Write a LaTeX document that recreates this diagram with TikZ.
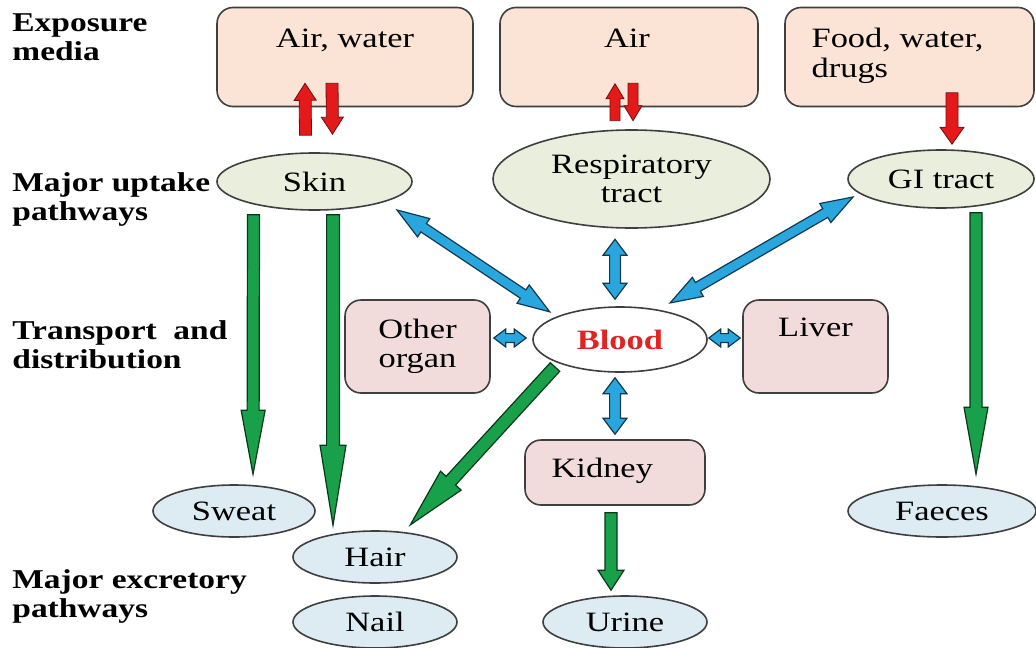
\documentclass[tikz,border=0pt]{standalone}
\usepackage{fontspec}
\setmainfont{Liberation Serif}[FakeStretch=1.23]
\usepackage{tikz}
\usetikzlibrary{shapes.geometric,calc}
\definecolor{mediafill}{HTML}{FBE3D5}
\definecolor{uptakefill}{HTML}{E9EFDC}
\definecolor{organfill}{HTML}{F2DCDB}
\definecolor{excretefill}{HTML}{DDEBF2}
\definecolor{edgegrey}{HTML}{3F3F3F}
\definecolor{arrowred}{HTML}{E41A1A}
\definecolor{arrowgreen}{HTML}{18A04A}
\definecolor{arrowblue}{HTML}{2AA6DF}
\definecolor{bloodred}{HTML}{E02424}
\newcommand{\diagfont}{\fontsize{14}{14.5}\selectfont}
\newcommand{\labfont}{\fontsize{13.6}{14.5}\selectfont\bfseries}
\newcommand{\fatarrow}[6][]{%
  \path[#1] let \p1=(#2), \p2=(#3),
    \n1={atan2(\y2-\y1,\x2-\x1)}, \n2={veclen(\x2-\x1,\y2-\y1)} in
    [shift={(\p1)},rotate=\n1]
    (0pt,#4) -- ({\n2-#6},#4) -- ({\n2-#6},#5) -- ({\n2+0pt},0pt)
    -- ({\n2-#6},-#5) -- ({\n2-#6},-#4) -- (0pt,-#4) -- cycle;}
\newcommand{\fatdarrow}[6][]{%
  \path[#1] let \p1=(#2), \p2=(#3),
    \n1={atan2(\y2-\y1,\x2-\x1)}, \n2={veclen(\x2-\x1,\y2-\y1)} in
    [shift={(\p1)},rotate=\n1]
    (0pt,0pt) -- (#6,#5) -- (#6,#4) -- ({\n2-#6},#4) -- ({\n2-#6},#5) -- ({\n2+0pt},0pt)
    -- ({\n2-#6},-#5) -- ({\n2-#6},-#4) -- (#6,-#4) -- (#6,-#5) -- cycle;}

\begin{document}
\begin{tikzpicture}[x=0.5pt,y=-0.5pt,font=\diagfont,
    lab/.style={font=\labfont,align=left,anchor=north west,inner sep=0pt},
    box/.style={draw=edgegrey,line width=0.8pt,rounded corners=8pt,inner sep=0pt},
    media/.style={box,fill=mediafill,minimum height=49.5pt},
    organ/.style={box,fill=organfill,align=center},
    oval/.style={ellipse,draw=edgegrey,line width=0.8pt,inner sep=0pt,align=center},
    uptake/.style={oval,fill=uptakefill},
    excrete/.style={oval,fill=excretefill,minimum height=26pt},
    redarr/.style={fill=arrowred,draw=arrowred!50!black,line width=0.4pt},
    greenarr/.style={fill=arrowgreen,draw=arrowgreen!35!black,line width=0.6pt},
    bluearr/.style={fill=arrowblue,draw=arrowblue!35!black,line width=0.6pt}]
  \useasboundingbox (0,0) rectangle (1036,647);
  \foreach \nm/\y/\t in {exposurelab/13/{Exposure\\media},uptakelab/172/{Major uptake\\pathways},
      transportlab/320/{Transport\ \ and\\distribution},excretionlab/569/{Major excretory\\pathways}}
    \node[lab] (\nm) at (12,\y) {\t};
  \node[media,minimum width=128pt] (airw) at (345,57) {};
  \node[anchor=base] (airwtxt) at ($(airw.north)+(0,41)$) {Air, water};
  \node[media,minimum width=129pt] (air) at (629,57) {};
  \node[anchor=base] (airtxt) at ($(air.north)+(-2,41)$) {Air};
  \node[media,minimum width=124.5pt] (food) at (909.5,57) {};
  \node[anchor=north west,align=left,inner sep=0pt] (foodtxt) at ($(food.north west)+(27,21)$) {Food, water,\\[0.5pt]drugs};
  \node[uptake,minimum width=97.5pt,minimum height=28.5pt] (skin) at (314.5,181.5) {Skin};
  \node[uptake,minimum width=138.5pt,minimum height=49pt] (resp) at (631.5,179) {Respiratory\\tract};
  \node[uptake,minimum width=93pt,minimum height=29pt] (gi) at (941,179) {GI tract};
  \node[oval,fill=white,minimum width=87pt,minimum height=32.5pt,text=bloodred,
    font=\diagfont\bfseries] (blood) at (620,339.5) {Blood};
  \node[organ,minimum width=72.5pt,minimum height=46.5pt] (other) at (417.5,346.5) {Other\\organ};
  \node[organ,minimum width=72.5pt,minimum height=46.5pt] (liver) at (815.5,346.5) {};
  \node[anchor=base] (livertxt) at ($(liver.north)+(0,37.5)$) {Liver};
  \node[organ,minimum width=90pt,minimum height=32.5pt] (kidney) at (615,472.5) {};
  \node[anchor=base west,inner sep=0pt] (kidneytxt) at ($(kidney.west)+(27,4.5)$) {Kidney};
  \foreach \nm/\x/\y/\w/\t in {sweat/234/511/81pt/Sweat,hair/375/557/82pt/Hair,nail/375/622/82pt/Nail,
      urine/625/622/82pt/Urine,faeces/942/511/94pt/Faeces}
    \node[excrete,minimum width=\w] (\nm) at (\x,\y) {\t};
  \fatarrow[redarr]{$(skin.north)+(-9,-17)$}{$(airw.south)+(-40,-24)$}{3pt}{5.5pt}{8.5pt}
  \fatarrow[redarr]{$(airw.south)+(-13,-24)$}{$(skin.north)+(18,-18)$}{3pt}{5.5pt}{8.5pt}
  \fatarrow[redarr]{$(resp.north)+(-16.5,-8.5)$}{$(air.south)+(-14,-23.5)$}{2.5pt}{4.5pt}{7.5pt}
  \fatarrow[redarr]{$(air.south)+(4,-24)$}{$(resp.north)+(1.5,-8.5)$}{2.5pt}{4.5pt}{7.5pt}
  \fatarrow[redarr]{$(food.south)+(42.5,-14.5)$}{$(gi.north)+(11,-5)$}{3pt}{6pt}{8.5pt}
  \fatarrow[greenarr]{$(skin.south)+(-61,4)$}{$(sweat.north)+(19,-10)$}{3pt}{6pt}{32pt}
  \fatarrow[greenarr]{$(skin.south)+(18.5,4)$}{$(hair.north)+(-42,-5)$}{3.2pt}{6.5pt}{40pt}
  \fatarrow[greenarr]{$(blood.center)+(-65,27.5)$}{$(hair.north)+(35,-5)$}{3.2pt}{7pt}{30pt}
  \fatarrow[greenarr]{$(kidney.south)+(-4,7)$}{$(urine.north)+(-14,-5)$}{3pt}{6.5pt}{10pt}
  \fatarrow[greenarr]{$(gi.south)+(35,4)$}{$(faeces.north)+(34,-10)$}{3pt}{6pt}{33.5pt}
  \fatdarrow[bluearr]{$(skin.center)+(82.5,28.5)$}{$(blood.center)+(-70,-27.5)$}{2.5pt}{5.5pt}{16pt}
  \fatdarrow[bluearr]{$(resp.south)+(-16.5,10.5)$}{$(blood.north)+(-5,-7)$}{2.7pt}{6pt}{8pt}
  \fatdarrow[bluearr]{$(gi.center)+(-88,18)$}{$(blood.center)+(50,-36.5)$}{2.5pt}{5.5pt}{16pt}
  \fatdarrow[bluearr]{$(other.east)+(3,-8.5)$}{$(blood.west)+(-6,-1.5)$}{2.2pt}{4.5pt}{6pt}
  \fatdarrow[bluearr]{$(blood.east)+(1,-1.5)$}{$(liver.west)+(-2,-8.5)$}{2.2pt}{4.5pt}{6pt}
  \fatdarrow[bluearr]{$(blood.south)+(-5,5)$}{$(kidney.north)+(0,-5)$}{2.7pt}{6pt}{8pt}
\end{tikzpicture}
\end{document}
